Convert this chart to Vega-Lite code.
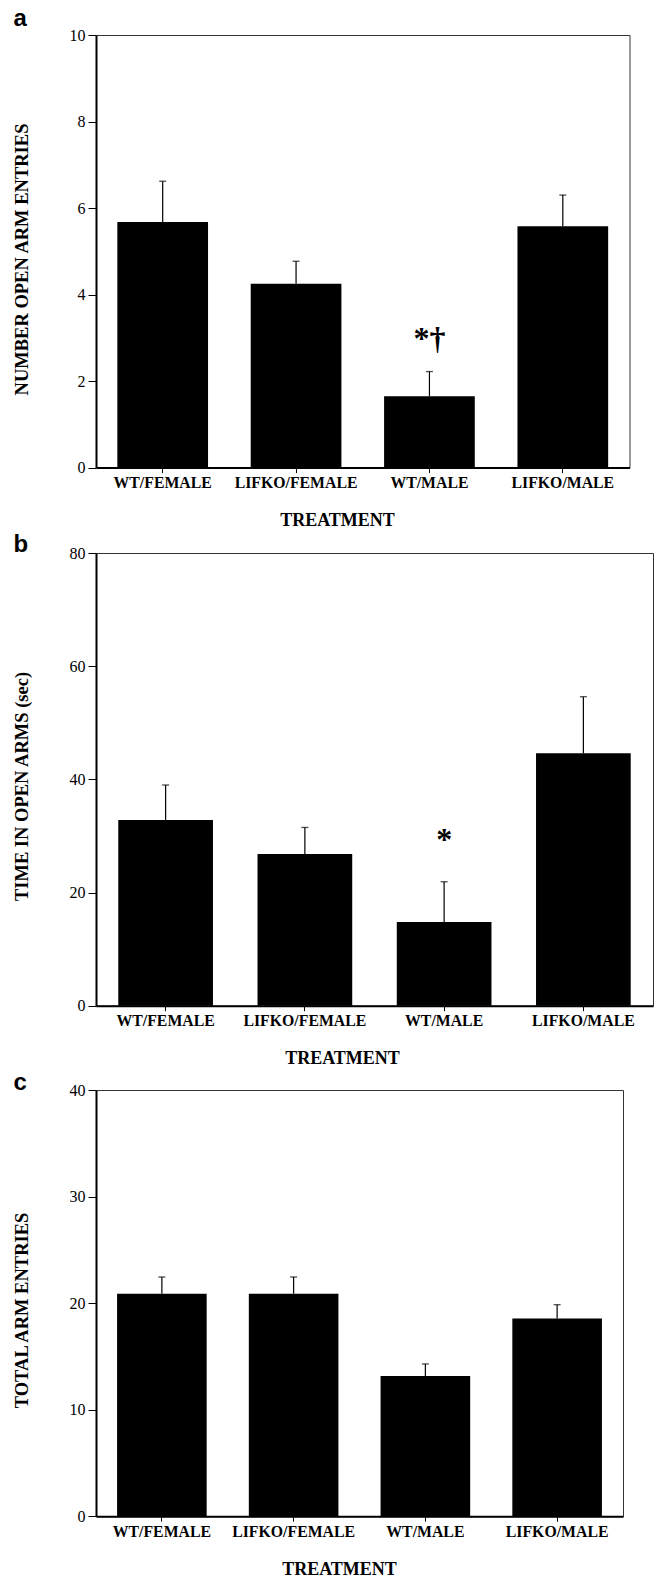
{
  "$schema": "https://vega.github.io/schema/vega-lite/v6.json",
  "padding": {"left": 11, "top": 6, "right": 0, "bottom": 0},
  "background": "white",
  "spacing": 2,
  "config": {
    "view": {"stroke": "#333", "strokeWidth": 1},
    "font": "Liberation Serif",
    "title": {"font": "Liberation Sans", "fontWeight": "bold", "fontSize": 24, "anchor": "start", "frame": "group", "dx": -82.5, "color": "black"},
    "axisX": {"labelAngle": 0, "labelFont": "Liberation Serif", "labelFontWeight": "bold", "labelFontSize": 15.8, "labelColor": "black", "tickSize": 5, "tickColor": "black", "tickWidth": 1, "labelPadding": 3, "domainColor": "black", "domainWidth": 2, "titleFont": "Liberation Serif", "titleFontWeight": "bold", "titleFontSize": 18, "titleColor": "black", "titlePadding": 21, "titleAnchor": "middle"},
    "axisY": {"labelFont": "Liberation Serif", "labelFontWeight": "normal", "labelFontSize": 16, "labelColor": "black", "tickSize": 8, "tickColor": "black", "tickWidth": 1, "labelPadding": 3, "domainColor": "black", "domainWidth": 2, "grid": false, "titleFont": "Liberation Serif", "titleFontWeight": "bold", "titleFontSize": 18.5, "titleColor": "black", "titlePadding": 38}
  },
  "vconcat": [
    {
      "title": {"text": "a", "offset": -4.4},
      "width": 533.5,
      "height": 432.6,
      "data": {"values": [
        {"treatment": "WT/FEMALE", "mean": 5.68, "err": 6.62},
        {"treatment": "LIFKO/FEMALE", "mean": 4.25, "err": 4.77},
        {"treatment": "WT/MALE", "mean": 1.65, "err": 2.22},
        {"treatment": "LIFKO/MALE", "mean": 5.58, "err": 6.30}
      ]},
      "encoding": {
        "x": {"field": "treatment", "type": "nominal", "sort": null, "scale": {"paddingInner": 0.32, "paddingOuter": 0.16}, "axis": {"title": "TREATMENT", "titleX": 241}}
      },
      "layer": [
        {"mark": {"type": "bar", "color": "black"}, "encoding": {"y": {"field": "mean", "type": "quantitative", "scale": {"domain": [0, 10]}, "axis": {"title": "NUMBER OPEN ARM ENTRIES", "values": [0, 2, 4, 6, 8, 10], "titleY": 224}}}},
        {"mark": {"type": "rule", "color": "black", "strokeWidth": 1.2}, "encoding": {"y": {"field": "mean", "type": "quantitative"}, "y2": {"field": "err"}}},
        {"mark": {"type": "tick", "color": "black", "thickness": 1.3, "size": 7}, "encoding": {"y": {"field": "err", "type": "quantitative"}}},
        {"data": {"values": [{"treatment": "WT/MALE", "label": "*\u2020", "value": 2.75}]}, "mark": {"type": "text", "font": "Liberation Serif", "fontWeight": "bold", "fontSize": 32, "baseline": "alphabetic", "align": "center", "color": "black"}, "encoding": {"y": {"field": "value", "type": "quantitative"}, "text": {"field": "label"}}}
      ]
    },
    {
      "title": {"text": "b", "offset": -11.7},
      "width": 557,
      "height": 452.7,
      "data": {"values": [
        {"treatment": "WT/FEMALE", "mean": 32.8, "err": 39.0},
        {"treatment": "LIFKO/FEMALE", "mean": 26.8, "err": 31.5},
        {"treatment": "WT/MALE", "mean": 14.8, "err": 21.9},
        {"treatment": "LIFKO/MALE", "mean": 44.6, "err": 54.6}
      ]},
      "encoding": {
        "x": {"field": "treatment", "type": "nominal", "sort": null, "scale": {"paddingInner": 0.32, "paddingOuter": 0.16}, "axis": {"title": "TREATMENT", "titleX": 246}}
      },
      "layer": [
        {"mark": {"type": "bar", "color": "black"}, "encoding": {"y": {"field": "mean", "type": "quantitative", "scale": {"domain": [0, 80]}, "axis": {"title": "TIME IN OPEN ARMS (sec)", "values": [0, 20, 40, 60, 80], "titleY": 233}}}},
        {"mark": {"type": "rule", "color": "black", "strokeWidth": 1.2}, "encoding": {"y": {"field": "mean", "type": "quantitative"}, "y2": {"field": "err"}}},
        {"mark": {"type": "tick", "color": "black", "thickness": 1.3, "size": 7}, "encoding": {"y": {"field": "err", "type": "quantitative"}}},
        {"data": {"values": [{"treatment": "WT/MALE", "label": "*", "value": 27.6}]}, "mark": {"type": "text", "font": "Liberation Serif", "fontWeight": "bold", "fontSize": 32, "baseline": "alphabetic", "align": "center", "color": "black"}, "encoding": {"y": {"field": "value", "type": "quantitative"}, "text": {"field": "label"}}}
      ]
    },
    {
      "title": {"text": "c", "offset": -13.1},
      "width": 527,
      "height": 426.2,
      "data": {"values": [
        {"treatment": "WT/FEMALE", "mean": 20.87, "err": 22.45},
        {"treatment": "LIFKO/FEMALE", "mean": 20.87, "err": 22.45},
        {"treatment": "WT/MALE", "mean": 13.15, "err": 14.29},
        {"treatment": "LIFKO/MALE", "mean": 18.56, "err": 19.85}
      ]},
      "encoding": {
        "x": {"field": "treatment", "type": "nominal", "sort": null, "scale": {"paddingInner": 0.32, "paddingOuter": 0.16}, "axis": {"title": "TREATMENT", "titleX": 243}}
      },
      "layer": [
        {"mark": {"type": "bar", "color": "black"}, "encoding": {"y": {"field": "mean", "type": "quantitative", "scale": {"domain": [0, 40]}, "axis": {"title": "TOTAL ARM ENTRIES", "values": [0, 10, 20, 30, 40], "titleY": 220}}}},
        {"mark": {"type": "rule", "color": "black", "strokeWidth": 1.2}, "encoding": {"y": {"field": "mean", "type": "quantitative"}, "y2": {"field": "err"}}},
        {"mark": {"type": "tick", "color": "black", "thickness": 1.3, "size": 7}, "encoding": {"y": {"field": "err", "type": "quantitative"}}}
      ]
    }
  ]
}
